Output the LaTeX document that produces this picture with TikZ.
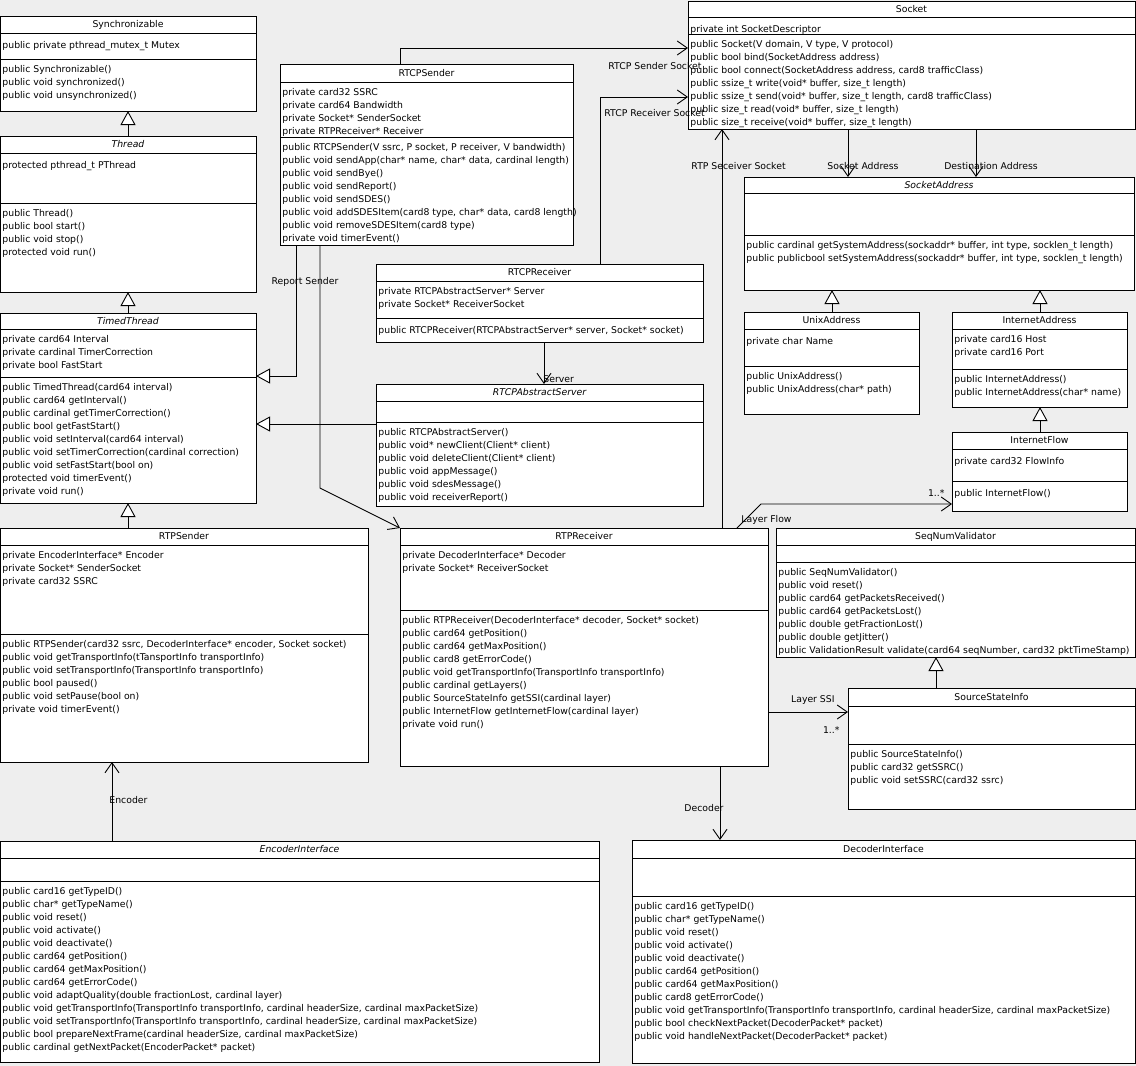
\documentclass[tikz,border=0pt]{standalone}
\usepackage{fontspec}
\setmainfont{DejaVu Sans}
\usetikzlibrary{positioning,calc,arrows.meta}
\definecolor{canvas}{RGB}{238,238,238}
\newcommand{\umlfont}{\fontsize{9.3}{13}\selectfont}
% class box: name, x, y, width, height, first rule, second rule, title
\newcommand{\classbox}[8]{%
  \node[classbox, minimum width=#4pt, minimum height=#5pt] (#1) at (#2,#3) {};
  \node[classtitle] (#1-name) at ($(#1.north)+(0,#6/2)$) {#8};
  \draw ($(#1.north west)+(0,#6)$) coordinate (#1-attr) -- ($(#1.north east)+(0,#6)$);
  \draw ($(#1.north west)+(0,#7)$) coordinate (#1-oper) -- ($(#1.north east)+(0,#7)$);
}

\begin{document}
\begin{tikzpicture}[
x=1pt, y=-1pt, line width=0.9pt,
classbox/.style={draw, fill=white, anchor=north west, inner sep=0pt, outer sep=0pt},
classtitle/.style={font=\umlfont, inner sep=0pt},
member/.style={font=\umlfont, anchor=north west, inner sep=0pt, xshift=2pt, yshift=-5.8pt, align=left, execute at begin node=\strut},
gen/.style={-{Triangle[length=14pt, width=15pt, fill=white]}},
assoc/.style={-{Straight Barb[length=10pt, width=14pt]}},
lbl/.style={font=\umlfont, inner sep=1pt}
]
\fill[canvas] (0,0) rectangle (1136,1066);
\useasboundingbox (0,0) rectangle (1136,1066);

% threads
\classbox{sync}{0}{16}{256}{95}{17}{43}{Synchronizable}
\node[member] (sync-a) at (sync-attr) {public private pthread\_mutex\_t Mutex};
\node[member] (sync-o) at (sync-oper) {public Synchronizable()\\public void synchronized()\\public void unsynchronized()};

\classbox{thread}{0}{136}{256}{156}{17}{67}{\itshape Thread}
\node[member] (thread-a) at (thread-attr) {protected pthread\_t PThread};
\node[member] (thread-o) at (thread-oper) {public Thread()\\public bool start()\\public void stop()\\protected void run()};

\classbox{timed}{0}{313}{256}{190}{16}{64}{\itshape TimedThread}
\node[member] (timed-a) at (timed-attr) {private card64 Interval\\private cardinal TimerCorrection\\private bool FastStart};
\node[member] (timed-o) at (timed-oper) {public TimedThread(card64 interval)\\public card64 getInterval()\\public cardinal getTimerCorrection()\\public bool getFastStart()\\public void setInterval(card64 interval)\\public void setTimerCorrection(cardinal correction)\\public void setFastStart(bool on)\\protected void timerEvent()\\private void run()};

% rtp
\classbox{rtpsender}{0}{528}{368}{234}{17}{106}{RTPSender}
\node[member] (rtpsender-a) at (rtpsender-attr) {private EncoderInterface* Encoder\\private Socket* SenderSocket\\private card32 SSRC};
\node[member] (rtpsender-o) at (rtpsender-oper) {public RTPSender(card32 ssrc, DecoderInterface* encoder, Socket socket)\\public void getTransportInfo(tTansportInfo transportInfo)\\public void setTransportInfo(TransportInfo transportInfo)\\public bool paused()\\public void setPause(bool on)\\private void timerEvent()};

\classbox{rtpreceiver}{400}{528}{368}{238}{17}{82}{RTPReceiver}
\node[member] (rtpreceiver-a) at (rtpreceiver-attr) {private DecoderInterface* Decoder\\private Socket* ReceiverSocket};
\node[member] (rtpreceiver-o) at (rtpreceiver-oper) {public RTPReceiver(DecoderInterface* decoder, Socket* socket)\\public card64 getPosition()\\public card64 getMaxPosition()\\public card8 getErrorCode()\\public void getTransportInfo(TransportInfo transportInfo)\\public cardinal getLayers()\\public SourceStateInfo getSSI(cardinal layer)\\public InternetFlow getInternetFlow(cardinal layer)\\private void run()};

\classbox{encoder}{0}{841}{599}{221}{17}{40}{\itshape EncoderInterface}
\node[member] (encoder-o) at (encoder-oper) {public card16 getTypeID()\\public char* getTypeName()\\public void reset()\\public void activate()\\public void deactivate()\\public card64 getPosition()\\public card64 getMaxPosition()\\public card64 getErrorCode()\\public void adaptQuality(double fractionLost, cardinal layer)\\public void getTransportInfo(TransportInfo transportInfo, cardinal headerSize, cardinal maxPacketSize)\\public void setTransportInfo(TransportInfo transportInfo, cardinal headerSize, cardinal maxPacketSize)\\public bool prepareNextFrame(cardinal headerSize, cardinal maxPacketSize)\\public cardinal getNextPacket(EncoderPacket* packet)};

\classbox{decoder}{632}{840}{503}{223}{18}{56}{DecoderInterface}
\node[member] (decoder-o) at (decoder-oper) {public card16 getTypeID()\\public char* getTypeName()\\public void reset()\\public void activate()\\public void deactivate()\\public card64 getPosition()\\public card64 getMaxPosition()\\public card8 getErrorCode()\\public void getTransportInfo(TransportInfo transportInfo, cardinal headerSize, cardinal maxPacketSize)\\public bool checkNextPacket(DecoderPacket* packet)\\public void handleNextPacket(DecoderPacket* packet)};

% rtcp
\classbox{rtcpsender}{280}{64}{293}{181}{18}{73}{RTCPSender}
\node[member] (rtcpsender-a) at (rtcpsender-attr) {private card32 SSRC\\private card64 Bandwidth\\private Socket* SenderSocket\\private RTPReceiver* Receiver};
\node[member] (rtcpsender-o) at (rtcpsender-oper) {public RTCPSender(V ssrc, P socket, P receiver, V bandwidth)\\public void sendApp(char* name, char* data, cardinal length)\\public void sendBye()\\public void sendReport()\\public void sendSDES()\\public void addSDESItem(card8 type, char* data, card8 length)\\public void removeSDESItem(card8 type)\\private void timerEvent()};

\classbox{rtcpreceiver}{376}{264}{327}{78}{17}{54}{RTCPReceiver}
\node[member] (rtcpreceiver-a) at (rtcpreceiver-attr) {private RTCPAbstractServer* Server\\private Socket* ReceiverSocket};
\node[member] (rtcpreceiver-o) at (rtcpreceiver-oper) {public RTCPReceiver(RTCPAbstractServer* server, Socket* socket)};

\classbox{rtcpabs}{376}{384}{327}{122}{17}{38}{\itshape RTCPAbstractServer}
\node[member] (rtcpabs-o) at (rtcpabs-oper) {public RTCPAbstractServer()\\public void* newClient(Client* client)\\public void deleteClient(Client* client)\\public void appMessage()\\public void sdesMessage()\\public void receiverReport()};

% sockets
\classbox{socket}{688}{1}{447}{128}{16}{33}{Socket}
\node[member] (socket-a) at (socket-attr) {private int SocketDescriptor};
\node[member] (socket-o) at (socket-oper) {public Socket(V domain, V type, V protocol)\\public bool bind(SocketAddress address)\\public bool connect(SocketAddress address, card8 trafficClass)\\public ssize\_t write(void* buffer, size\_t length)\\public ssize\_t send(void* buffer, size\_t length, card8 trafficClass)\\public size\_t read(void* buffer, size\_t length)\\public size\_t receive(void* buffer, size\_t length)};

\classbox{sockaddr}{744}{177}{390}{113}{16}{58}{\itshape SocketAddress}
\node[member] (sockaddr-o) at (sockaddr-oper) {public cardinal getSystemAddress(sockaddr* buffer, int type, socklen\_t length)\\public publicbool setSystemAddress(sockaddr* buffer, int type, socklen\_t length)};

\classbox{unix}{744}{312}{175}{102}{17}{54}{UnixAddress}
\node[member] (unix-a) at (unix-attr) {private char Name};
\node[member] (unix-o) at (unix-oper) {public UnixAddress()\\public UnixAddress(char* path)};

\classbox{inetaddr}{952}{312}{175}{95}{17}{57}{InternetAddress}
\node[member] (inetaddr-a) at (inetaddr-attr) {private card16 Host\\private card16 Port};
\node[member] (inetaddr-o) at (inetaddr-oper) {public InternetAddress()\\public InternetAddress(char* name)};

\classbox{inetflow}{952}{432}{175}{79}{17}{49}{InternetFlow}
\node[member] (inetflow-a) at (inetflow-attr) {private card32 FlowInfo};
\node[member] (inetflow-o) at (inetflow-oper) {public InternetFlow()};

% validation
\classbox{seqnum}{776}{528}{359}{129}{17}{34}{SeqNumValidator}
\node[member] (seqnum-o) at (seqnum-oper) {public SeqNumValidator()\\public void reset()\\public card64 getPacketsReceived()\\public card64 getPacketsLost()\\public double getFractionLost()\\public double getJitter()\\public ValidationResult validate(card64 seqNumber, card32 pktTimeStamp)};

\classbox{srcstate}{848}{688}{287}{121}{18}{56}{SourceStateInfo}
\node[member] (srcstate-o) at (srcstate-oper) {public SourceStateInfo()\\public card32 getSSRC()\\public void setSSRC(card32 ssrc)};

% inheritance
\draw[gen] (thread.north) -- (sync.south);
\draw[gen] (timed.north) -- (thread.south);
\draw[gen] (rtpsender.north -| timed.south) -- (timed.south);
\draw[gen] ($(rtcpsender.south west)+(16,0)$) |- ($(timed.north east)+(0,63)$);
\draw[gen] ($(rtcpabs.north west)+(0,40)$) coordinate (abs-w) -- (abs-w -| timed.east);
\draw[gen] ($(unix.north west)+(88,0)$) coordinate (unix-n) -- (unix-n |- sockaddr.south);
\draw[gen] ($(inetaddr.north west)+(88,0)$) coordinate (inet-n) -- (inet-n |- sockaddr.south);
\draw[gen] (inetflow.north -| inet-n) -- (inetaddr.south -| inet-n);
\draw[gen] ($(srcstate.north west)+(88,0)$) coordinate (ssi-n) -- (ssi-n |- seqnum.south);

% associations
\draw[assoc] ($(rtcpsender.north west)+(120,0)$) |- ($(socket.north west)+(0,47)$) node[lbl, anchor=west, xshift=-81pt, yshift=-18pt] {RTCP Sender Socket};
\draw[assoc] ($(rtcpreceiver.north west)+(224,0)$) |- ($(socket.north west)+(0,96)$) node[lbl, anchor=west, xshift=-85pt, yshift=-16pt] {RTCP Receiver Socket};
\draw[assoc] ($(rtpreceiver.north west)+(322,0)$) coordinate (rr-n) -- (rr-n |- socket.south) node[lbl, pos=0.907, anchor=west, xshift=-32pt] {RTP Seceiver Socket};
\draw[assoc] ($(socket.south west)+(160,0)$) -- ($(sockaddr.north west)+(104,0)$) node[lbl, pos=0.77, xshift=15pt] {Socket Address};
\draw[assoc] ($(socket.south west)+(288,0)$) -- ($(sockaddr.north west)+(232,0)$) node[lbl, pos=0.77, xshift=15pt] {Destination Address};
\draw[assoc] ($(rtcpreceiver.south west)+(168,0)$) -- ($(rtcpabs.north west)+(168,0)$) node[lbl, anchor=south west, xshift=-2pt] {Server};
\draw[assoc] ($(rtcpsender.south west)+(40,0)$) -- ++(0,243) node[lbl, pos=0.15, xshift=-15pt] {Report Sender} -- (rtpreceiver.north west);
\draw[assoc] ($(rtpreceiver.north west)+(337,0)$) node[lbl, anchor=west, xshift=3pt, yshift=8pt] {Layer Flow} -- ++(24,-24) -- ($(inetflow.north west)+(0,72)$) node[lbl, anchor=south east, xshift=-6pt, yshift=6pt] {1..*};
\draw[assoc] ($(rtpreceiver.north east)+(0,184)$) -- ($(srcstate.north west)+(0,24)$) node[lbl, anchor=south east, xshift=-12pt, yshift=6pt] {Layer SSI} node[lbl, anchor=north east, xshift=-7pt, yshift=-13pt] {1..*};
\draw[assoc] ($(rtpreceiver.south west)+(320,0)$) -- ($(decoder.north west)+(88,0)$) node[lbl, pos=0.57, anchor=east, xshift=5pt] {Decoder};
\draw[assoc] ($(encoder.north west)+(112,0)$) -- ($(rtpsender.south west)+(112,0)$) node[lbl, pos=0.52, anchor=west, xshift=-4pt] {Encoder};
\end{tikzpicture}
\end{document}
